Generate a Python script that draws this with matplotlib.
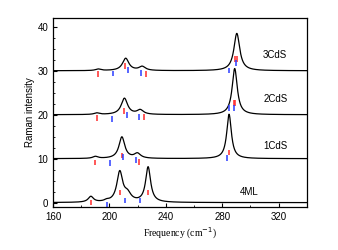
import numpy as np
import matplotlib
matplotlib.use('Agg')
from matplotlib import pyplot as plt
from matplotlib.ticker import MultipleLocator

# spectra: baseline offset, peak centres, heights, widths (FWHM, cm-1)
names = ['4ML', '1CdS', '2CdS', '3CdS']
offsets = [0, 10, 20, 30]
peak_pos = [[186.8, 198.0, 207.3, 212.8, 227.4],
			[190.0, 208.8, 219.8, 284.8],
			[191.0, 210.6, 221.8, 288.8],
			[192.0, 211.5, 223.2, 290.3]]
peak_h = [[1.3, 0.3, 6.8, 1.7, 8.0],
		  [0.45, 4.9, 1.1, 10.1],
		  [0.35, 3.7, 1.0, 10.5],
		  [0.35, 2.8, 0.9, 8.5]]
peak_w = [[4.5, 4.0, 5.0, 6.0, 4.3],
		  [4.5, 5.0, 5.5, 4.0],
		  [4.5, 5.5, 5.5, 4.4],
		  [4.5, 5.5, 5.5, 5.0]]

# calculated mode markers (red / blue bars): frequency, centre height
red_x = [[186.9, 207.5, 227.2],
		 [189.8, 208.9, 221.2, 284.7],
		 [191.0, 210.1, 224.3, 288.0, 289.0],
		 [192.1, 211.3, 226.0, 289.0, 290.2]]
red_y = [[0.05, 2.3, 2.3],
		 [9.1, 10.7, 9.25, 11.4],
		 [19.2, 20.9, 19.5, 22.7, 22.7],
		 [29.3, 31.0, 29.3, 32.7, 32.7]]
blue_x = [[198.1, 211.0, 221.7],
		  [200.4, 209.9, 218.9, 283.2],
		  [202.0, 212.2, 220.8, 285.1, 288.6],
		  [202.7, 213.0, 222.4, 284.6, 290.0]]
blue_y = [[-0.5, 0.5, 0.5],
		  [9.0, 10.3, 9.75, 10.2],
		  [19.0, 19.9, 19.5, 21.6, 21.5],
		  [29.4, 30.2, 29.5, 30.05, 31.8]]

label_x = [292.5, 309, 309, 309]
label_y = [2.5, 12.9, 23.5, 33.6]

fig = plt.figure(figsize=(3.38, 2.5), dpi=100)
ax = fig.add_axes([0.157, 0.172, 0.751, 0.756])

freq = np.linspace(160, 340, 1801)
for i in range(len(names)):
	spec = np.zeros_like(freq) + offsets[i]
	for p, h, w in zip(peak_pos[i], peak_h[i], peak_w[i]):
		spec += h / (1 + ((freq - p) / (w / 2)) ** 2)
	ax.plot(freq, spec, c='k', lw=0.9)
	rx = np.array(red_x[i])
	ry = np.array(red_y[i])
	bx = np.array(blue_x[i])
	by = np.array(blue_y[i])
	ax.vlines(rx, ry - 0.65, ry + 0.65, colors='#ff2a2a', lw=1.1)
	ax.vlines(bx, by - 0.65, by + 0.65, colors='#2a3cff', lw=1.1)
	ax.text(label_x[i], label_y[i], names[i], fontsize=7, family='Liberation Sans',
			va='center', ha='left')

ax.set_xlim(160, 340)
ax.set_ylim(-1, 42)
ax.xaxis.set_major_locator(MultipleLocator(40))
ax.xaxis.set_minor_locator(MultipleLocator(20))
ax.yaxis.set_major_locator(MultipleLocator(10))
ax.yaxis.set_minor_locator(MultipleLocator(2.5))
ax.tick_params(which='both', direction='in', top=False, right=False, labelsize=7)
ax.tick_params(which='major', length=3)
ax.tick_params(which='minor', length=1.5)
for lab in ax.get_xticklabels() + ax.get_yticklabels():
	lab.set_family('Liberation Sans')
for s in ax.spines.values():
	s.set_linewidth(0.9)

ax.set_xlabel('Frequency (cm$^{-1}$)', fontsize=7, family='Liberation Serif', labelpad=3)
ax.set_ylabel('Raman intensity', fontsize=7, family='Liberation Sans', labelpad=2)

fig.savefig('out.png', dpi=100)
